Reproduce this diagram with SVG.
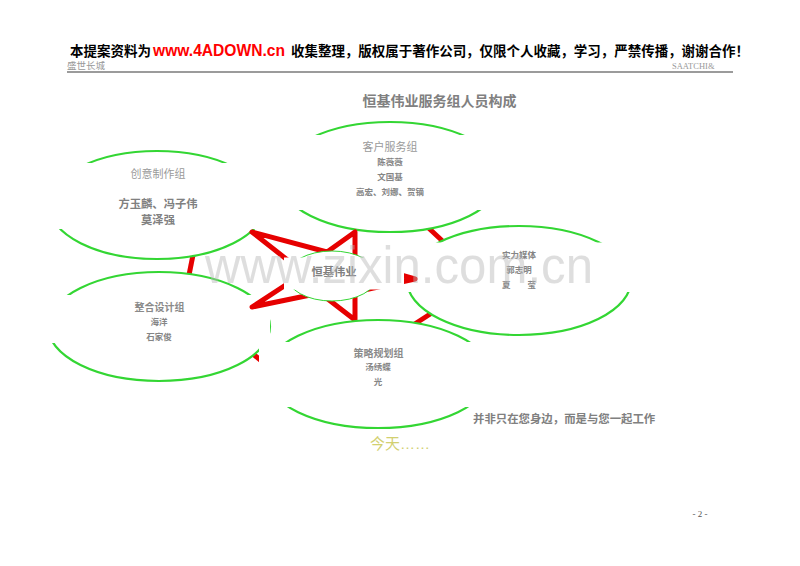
<svg xmlns="http://www.w3.org/2000/svg" width="800" height="566" viewBox="0 0 800 566">
<style>
.ell{fill:#fff;stroke:#33d633;stroke-width:2.2}
.box{fill:#fff;stroke:none}
.red{fill:none;stroke:#e60000;stroke-width:5;stroke-linejoin:round;stroke-linecap:butt}
.cjk{font-family:"Noto Sans CJK SC","Noto Sans",sans-serif;text-anchor:middle}
.t1{font-size:11px;fill:#9a9a9a}
.t2{font-size:8.5px;fill:#858585;font-weight:bold}
.t3{font-size:10px;fill:#8a8a8a;font-weight:bold}
</style>
<rect width="800" height="566" fill="#fff"/>
<g id="header">
<text x="70" y="56" font-family="Noto Sans CJK SC,sans-serif" font-size="13.5" font-weight="bold" fill="#000">本提案资料为</text>
<text x="153" y="56" font-family="Liberation Sans,Arial,sans-serif" font-size="15.6" font-weight="bold" fill="#ff0000">www.4ADOWN.cn</text>
<text x="291" y="56" font-family="Noto Sans CJK SC,sans-serif" font-size="13.5" font-weight="bold" fill="#000" textLength="458" lengthAdjust="spacing">收集整理，版权属于著作公司，仅限个人收藏，学习，严禁传播，谢谢合作！</text>
<text x="67" y="69" font-family="Noto Sans CJK SC,sans-serif" font-size="9.5" fill="#999">盛世长城</text>
<text x="672" y="68.5" font-family="Liberation Serif,serif" font-size="8.5" fill="#999">SAATCHI&amp;</text>
<line x1="67" y1="72" x2="733" y2="72" stroke="#7a7a7a" stroke-width="1.5"/>
<text x="439.5" y="106" class="cjk" font-size="14" font-weight="bold" fill="#808080">恒基伟业服务组人员构成</text>
</g>
<g id="connectors">
<line class="red" x1="195" y1="245" x2="187" y2="285"/>
<line class="red" x1="420" y1="220" x2="450" y2="248"/>
<line class="red" x1="438" y1="309" x2="410" y2="327"/>
<line class="red" x1="247" y1="349" x2="270" y2="368"/>
</g>
<g id="n-chuangyi">
<ellipse class="ell" cx="157" cy="205" rx="108" ry="54"/>
<rect class="box" x="45" y="163" width="222" height="66"/>
<text class="cjk t1" x="158" y="178">创意制作组</text>
<text class="cjk" x="158" y="208" font-size="11.3" font-weight="bold" fill="#808080">方玉麟、冯子伟</text>
<text class="cjk" x="158" y="224" font-size="11.3" font-weight="bold" fill="#808080">莫泽强</text>
</g>
<g id="n-kehu">
<ellipse class="ell" cx="390" cy="177" rx="112" ry="55"/>
<rect class="box" x="272" y="135" width="236" height="75"/>
<text class="cjk t1" x="390" y="151">客户服务组</text>
<text class="cjk t2" x="390" y="165">陈薇薇</text>
<text class="cjk t2" x="390" y="180">文国基</text>
<text class="cjk t2" x="390" y="195">高宏、刘娜、贺镝</text>
</g>
<g id="n-shili">
<ellipse class="ell" cx="519" cy="280.5" rx="112" ry="54.5"/>
<rect class="box" x="404" y="242.5" width="234" height="49.5"/>
<text class="cjk t2" x="519" y="258">实力媒体</text>
<text class="cjk t2" x="519" y="273">郭志明</text>
<text class="cjk t2" x="519" y="288">夏　　莹</text>
</g>
<g id="n-zhenghe">
<ellipse class="ell" cx="159" cy="326.5" rx="111" ry="54.5"/>
<rect class="box" x="46" y="295" width="224" height="48"/>
<text class="cjk t3" x="159.5" y="311">整合设计组</text>
<text class="cjk t2" x="159" y="325">海洋</text>
<text class="cjk t2" x="159" y="340">石家俊</text>
</g>
<g id="star">
<polygon class="red" points="252,232 327,252 355,232 355,262 415,279 355,292 355,320 320,293 252,307 304,273"/>
</g>
<g id="n-center">
<ellipse cx="332" cy="276" rx="45" ry="25" fill="#fff" stroke="#33d633" stroke-width="1"/>
<rect class="box" x="284" y="257.5" width="120" height="32"/>
<text class="cjk" x="334" y="276" font-size="11.3" font-weight="bold" fill="#808080">恒基伟业</text>
</g>
<g id="n-celue">
<ellipse class="ell" cx="378" cy="374" rx="113" ry="54"/>
<rect class="box" x="259" y="342" width="240" height="65"/>
<text class="cjk t3" x="378.5" y="357">策略规划组</text>
<text class="cjk t2" x="378" y="370">汤绣蝶</text>
<text class="cjk t2" x="378" y="385">光</text>
</g>
<g id="footer">
<text x="473" y="423" font-family="Noto Sans CJK SC,sans-serif" font-size="11.4" font-weight="bold" fill="#808080">并非只在您身边，而是与您一起工作</text>
<text x="370" y="449" font-family="Liberation Sans,Noto Sans CJK SC,sans-serif" font-size="15" fill="#d2d070">今天……</text>
<text x="700" y="517" font-family="Liberation Serif,serif" font-size="9" fill="#555" text-anchor="middle">- 2 -</text>
</g>
<text x="205" y="283" font-family="Liberation Sans,Arial,sans-serif" font-size="52" fill="#b8b8b8" opacity="0.45" textLength="388" lengthAdjust="spacingAndGlyphs">www.zixin.com.cn</text>
</svg>
